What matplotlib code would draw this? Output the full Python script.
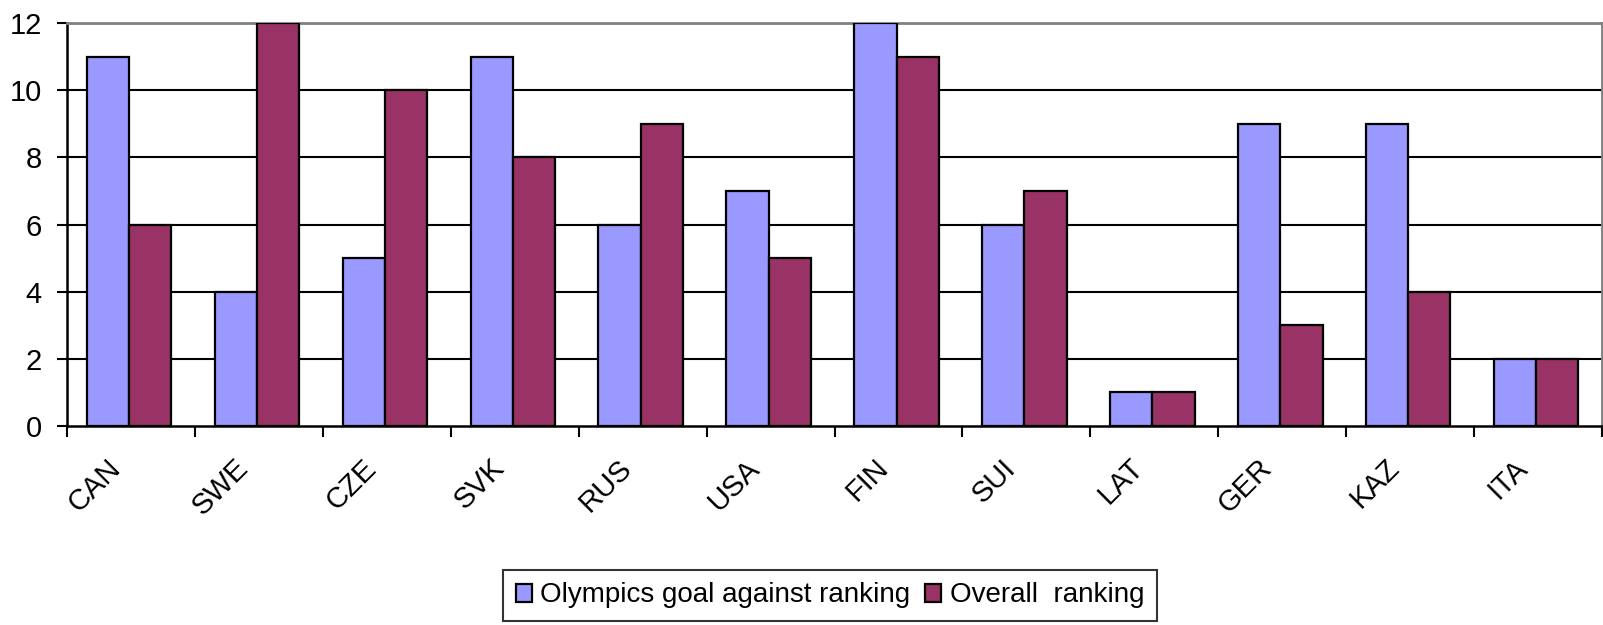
import matplotlib
matplotlib.use("Agg")
import matplotlib.pyplot as plt
import matplotlib.transforms as mtransforms
import numpy as np

countries = ["CAN", "SWE", "CZE", "SVK", "RUS", "USA", "FIN", "SUI", "LAT", "GER", "KAZ", "ITA"]
goal_against_rank = [11, 4, 5, 11, 6, 7, 12, 6, 1, 9, 9, 2]
overall_rank = [6, 12, 10, 8, 9, 5, 11, 7, 1, 3, 4, 2]

BLUE = "#9999FF"
PLUM = "#993366"

plt.rcParams["font.family"] = ["Liberation Sans", "DejaVu Sans"]

fig = plt.figure(figsize=(16.03, 6.25), dpi=100)
ax = fig.add_axes([67 / 1603, 1 - 426 / 625, (1602 - 67) / 1603, (426 - 23) / 625])

x = np.arange(len(countries))
w = 0.33
ax.bar(x - w / 2 - 0.015, goal_against_rank, width=w, color=BLUE, edgecolor="black",
       linewidth=1.6, label="Olympics goal against ranking", zorder=3)
ax.bar(x + w / 2 - 0.015, overall_rank, width=w, color=PLUM, edgecolor="black",
       linewidth=1.6, label="Overall  ranking", zorder=3)

ax.set_xlim(-0.5, len(countries) - 0.5)
ax.set_ylim(0, 12)
ax.set_yticks(range(0, 13, 2))
ax.tick_params(axis="y", labelsize=21, length=7, width=1.5, direction="out", pad=11)

# grid lines
for yv in range(2, 12, 2):
    ax.axhline(yv, color="black", linewidth=1.5, zorder=1)

for s in ["top", "right"]:
    ax.spines[s].set_color("#808080")
    ax.spines[s].set_linewidth(2)
ax.spines["left"].set_linewidth(1.8)
ax.spines["bottom"].set_linewidth(1.8)

# boundary ticks (major) and centred labels (minor)
ax.set_xticks(np.arange(-0.5, len(countries), 1.0))
ax.set_xticklabels([])
ax.tick_params(axis="x", which="major", length=8, width=1.5, direction="out")
ax.set_xticks(x, minor=True)
ax.set_xticklabels(countries, minor=True, rotation=45, ha="right", fontsize=21)
ax.tick_params(axis="x", which="minor", length=0, pad=20)
offset = mtransforms.ScaledTranslation(-5 / 100, 0, fig.dpi_scale_trans)
for lab in ax.xaxis.get_minorticklabels():
    lab.set_transform(lab.get_transform() + offset)

leg = fig.legend(loc="upper left", bbox_to_anchor=(503 / 1603, 1 - 570 / 625),
                 ncol=2, frameon=True, fancybox=False,
                 prop={"family": ["Liberation Sans Narrow", "Liberation Sans"], "size": 20},
                 handlelength=0.6, handleheight=0.6, handletextpad=0.3,
                 columnspacing=0.5, borderpad=0.45, borderaxespad=0)
leg.get_frame().set_edgecolor("black")
leg.get_frame().set_linewidth(1.5)

fig.savefig("out.png", dpi=100)
